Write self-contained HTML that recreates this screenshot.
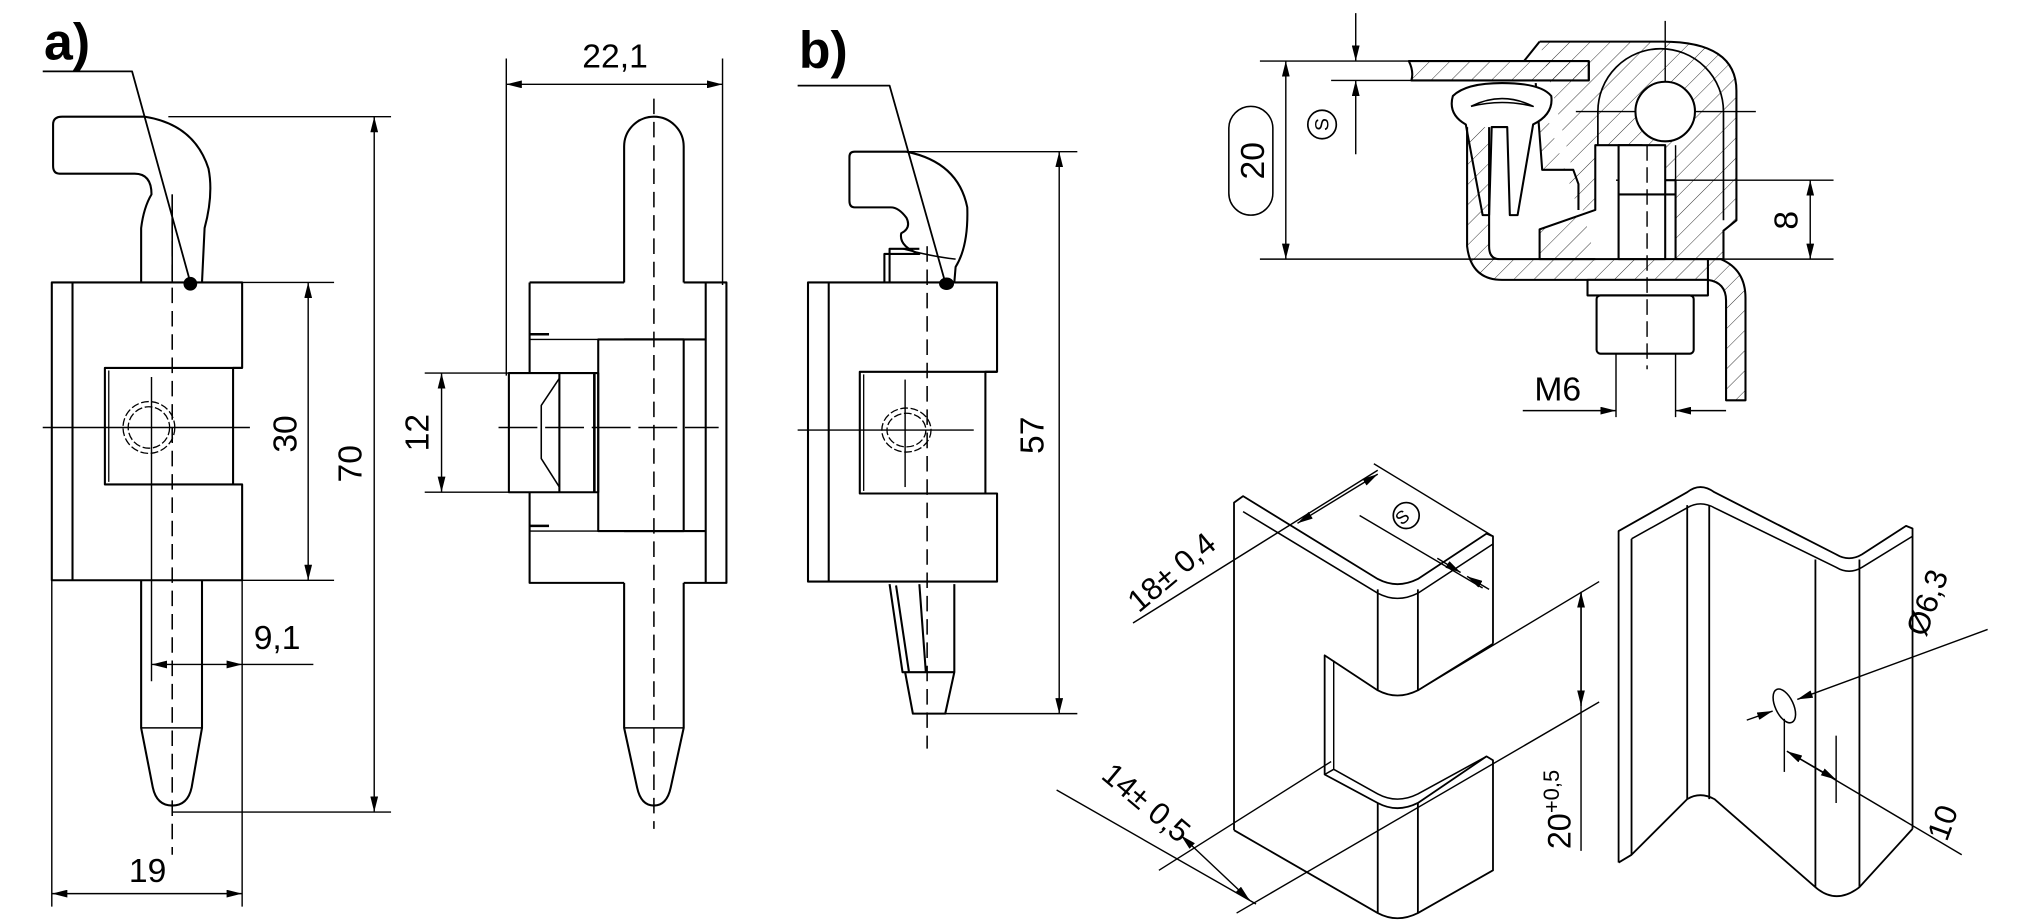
<!DOCTYPE html>
<html><head><meta charset="utf-8"><style>
html,body{margin:0;padding:0;background:#fff}
svg{display:block}
text{font-family:"Liberation Sans",Arial,sans-serif;fill:#000}
</style></head><body>
<svg width="2020" height="921" viewBox="0 0 1560 711" xmlns="http://www.w3.org/2000/svg">
<defs>
<marker id="ar" viewBox="0 0 12 6" refX="12" refY="3" markerWidth="12" markerHeight="6" orient="auto-start-reverse" markerUnits="userSpaceOnUse"><path d="M0,0 L12,3 L0,6 z" fill="#000"/></marker>
<pattern id="h" width="11" height="11" patternUnits="userSpaceOnUse" patternTransform="rotate(45)"><line x1="0" y1="0" x2="0" y2="11" stroke="#000" stroke-width="0.6"/></pattern>
</defs>
<g fill="none" stroke="#000" stroke-width="1.6" stroke-linejoin="round">

<!-- ===== a) front view ===== -->
<text x="34" y="46" font-size="40" font-weight="bold" stroke="none">a)</text>
<polyline points="33,55 102,55 147,218" stroke-width="1.4"/>
<circle cx="147" cy="219" r="4.5" fill="#000"/>
<path d="M109,218 L109,176 Q111,160 117,150 Q117,134 104,134 L46,134 Q41,134 41,128 L41,96 Q41,90 48,90 L112,90 Q150,96 161,130 Q165,150 158,176 L156,218"/>
<line x1="133" y1="150" x2="133" y2="218" stroke-width="1.2"/>
<path d="M40,218 L187,218 L187,284 L180,284 L180,374 L187,374 L187,448 L40,448 Z"/>
<line x1="56" y1="218" x2="56" y2="448"/>
<path d="M187,284 L81,284 L81,374 L180,374"/>
<line x1="84" y1="286" x2="84" y2="372" stroke-width="1"/>
<circle cx="115" cy="330" r="20" stroke-width="1" stroke-dasharray="6,2"/>
<circle cx="115" cy="330" r="16" stroke-width="1" stroke-dasharray="6,2"/>
<line x1="33" y1="330" x2="193" y2="330" stroke-width="1.1"/>
<line x1="117" y1="291" x2="117" y2="526" stroke-width="1.1"/>
<path d="M109,448 L109,562 L118,608 Q121,622 133,622 Q145,622 148,608 L156,562 L156,448"/>
<line x1="109" y1="562" x2="156" y2="562" stroke-width="1.1"/>
<line x1="133" y1="150" x2="133" y2="660" stroke-width="1.2" stroke-dasharray="12,6"/>
<g stroke-width="1.1">
<line x1="130" y1="90" x2="302" y2="90"/><line x1="133" y1="627" x2="302" y2="627"/>
<line x1="289" y1="90" x2="289" y2="627" marker-start="url(#ar)" marker-end="url(#ar)"/>
<line x1="187" y1="218" x2="258" y2="218"/><line x1="187" y1="448" x2="258" y2="448"/>
<line x1="238" y1="218" x2="238" y2="448" marker-start="url(#ar)" marker-end="url(#ar)"/>
<line x1="117" y1="513" x2="187" y2="513" marker-start="url(#ar)" marker-end="url(#ar)"/>
<line x1="187" y1="513" x2="242" y2="513"/>
<line x1="40" y1="448" x2="40" y2="700"/><line x1="187" y1="448" x2="187" y2="700"/>
<line x1="40" y1="690" x2="187" y2="690" marker-start="url(#ar)" marker-end="url(#ar)"/>
</g>
<text x="0" y="0" font-size="26" stroke="none" transform="translate(279,358) rotate(-90)" text-anchor="middle">70</text>
<text x="0" y="0" font-size="26" stroke="none" transform="translate(229,335) rotate(-90)" text-anchor="middle">30</text>
<text x="214" y="501" font-size="26" stroke="none" text-anchor="middle">9,1</text>
<text x="114" y="681" font-size="26" stroke="none" text-anchor="middle">19</text>

<!-- ===== a) side view ===== -->
<g stroke-width="1.1">
<line x1="391" y1="45" x2="391" y2="290"/><line x1="558" y1="45" x2="558" y2="220"/>
<line x1="391" y1="65" x2="558" y2="65" marker-start="url(#ar)" marker-end="url(#ar)"/>
</g>
<text x="475" y="52" font-size="26" stroke="none" text-anchor="middle">22,1</text>
<path d="M409,218 L482,218 M528,218 L561,218 L561,450 L528,450 M482,450 L409,450 L409,380 M409,288 L409,218"/>
<line x1="545" y1="218" x2="545" y2="450"/>
<path d="M482,262 L545,262 M482,410 L545,410"/>
<rect x="462" y="262" width="66" height="148"/>
<path d="M409,262 L462,262 M409,410 L462,410" stroke-width="1.1"/>
<path d="M409,258 L424,258 M409,406 L424,406" stroke-width="2"/>
<rect x="393" y="288" width="69" height="92"/>
<line x1="432" y1="288" x2="432" y2="380"/>
<path d="M432,292 L418,313 L418,354 L432,376" stroke-width="1.2"/>
<line x1="459" y1="288" x2="459" y2="380" stroke-width="2"/>
<path d="M482,218 L482,113 A23,23 0 0 1 528,113 L528,218 M482,450 L482,562 L492,608 Q495,622 505,622 Q515,622 518,608 L528,562 L528,450"/>
<line x1="482" y1="562" x2="528" y2="562" stroke-width="1.1"/>
<line x1="505" y1="76" x2="505" y2="640" stroke-width="1.2" stroke-dasharray="12,6"/>
<line x1="385" y1="330" x2="555" y2="330" stroke-width="1.1" stroke-dasharray="30,6"/>
<g stroke-width="1.1">
<line x1="328" y1="288" x2="393" y2="288"/><line x1="328" y1="380" x2="393" y2="380"/>
<line x1="341" y1="288" x2="341" y2="380" marker-start="url(#ar)" marker-end="url(#ar)"/>
</g>
<text x="0" y="0" font-size="26" stroke="none" transform="translate(331,334) rotate(-90)" text-anchor="middle">12</text>

<!-- ===== b) ===== -->
<text x="617" y="52" font-size="40" font-weight="bold" stroke="none">b)</text>
<polyline points="616,66 687,66 730,218" stroke-width="1.4"/>
<ellipse cx="731" cy="219" rx="5" ry="4" fill="#000"/>
<path d="M687,218 L687,192 L710,192 M683,218 L683,196 L710,196 Q694,190 696,180 Q704,176 700,168 Q694,160 688,160 L660,160 Q656,160 656,155 L656,121 Q656,117 660,117 L700,117 Q740,125 747,160 Q748,190 738,206 L737,218"/>
<path d="M697,192 Q720,198 738,200" stroke-width="1.2"/>
<path d="M624,218 L770,218 L770,287 L761,287 L761,381 L770,381 L770,449 L624,449 Z"/>
<line x1="640" y1="218" x2="640" y2="449"/>
<path d="M770,287 L664,287 L664,381 L761,381"/>
<line x1="667" y1="289" x2="667" y2="379" stroke-width="1"/>
<ellipse cx="700" cy="332" rx="19" ry="17" stroke-width="1" stroke-dasharray="6,2"/>
<ellipse cx="700" cy="332" rx="15" ry="13" stroke-width="1" stroke-dasharray="6,2"/>
<line x1="616" y1="332" x2="752" y2="332" stroke-width="1.1"/>
<line x1="699" y1="293" x2="699" y2="376" stroke-width="1.1"/>
<path d="M687,451 L697,519 L737,519 L737,451 M710,451 L715,519 M692,452 L702,519 M699,519 L705,551 L730,551 L737,519"/>
<line x1="716" y1="190" x2="716" y2="578" stroke-width="1.2" stroke-dasharray="12,6"/>
<g stroke-width="1.1">
<line x1="700" y1="117" x2="832" y2="117"/><line x1="730" y1="551" x2="832" y2="551"/>
<line x1="818" y1="117" x2="818" y2="551" marker-start="url(#ar)" marker-end="url(#ar)"/>
</g>
<text x="0" y="0" font-size="26" stroke="none" transform="translate(806,336) rotate(-90)" text-anchor="middle">57</text>

<!-- ===== section view top right ===== -->
<g stroke-width="1.1">
<line x1="973" y1="47" x2="1090" y2="47"/>
<line x1="973" y1="200" x2="1416" y2="200"/>
<line x1="993" y1="47" x2="993" y2="200" marker-start="url(#ar)" marker-end="url(#ar)"/>
<line x1="1047" y1="10" x2="1047" y2="47" marker-end="url(#ar)"/>
<line x1="1028" y1="62" x2="1090" y2="62"/>
<line x1="1047" y1="119" x2="1047" y2="62" marker-end="url(#ar)"/>
<line x1="1248" y1="139" x2="1416" y2="139"/>
<line x1="1398" y1="139" x2="1398" y2="200" marker-start="url(#ar)" marker-end="url(#ar)"/>
<line x1="1248" y1="228" x2="1248" y2="322"/><line x1="1294" y1="228" x2="1294" y2="322"/>
<line x1="1176" y1="317" x2="1248" y2="317" marker-end="url(#ar)"/>
<line x1="1333" y1="317" x2="1294" y2="317" marker-end="url(#ar)"/>
<line x1="1217" y1="86" x2="1356" y2="86"/>
<line x1="1286" y1="16" x2="1286" y2="75"/>
</g>
<rect x="949" y="82" width="34" height="84" rx="17" stroke-width="1.2"/>
<text x="0" y="0" font-size="26" stroke="none" transform="translate(976,124) rotate(-90)" text-anchor="middle">20</text>
<circle cx="1021" cy="96" r="11" stroke-width="1.3"/>
<text x="0" y="0" font-size="15" stroke="none" transform="translate(1026,96) rotate(-90)" text-anchor="middle">S</text>
<text x="0" y="0" font-size="26" stroke="none" transform="translate(1388,170) rotate(-90)" text-anchor="middle">8</text>
<text x="1203" y="309" font-size="26" stroke="none" text-anchor="middle">M6</text>
<path d="M1088,47 L1227,47 L1227,62 L1090,62 Q1092,55 1088,47 Z" fill="url(#h)"/>
<path d="M1189,32 L1284,32 Q1341,32 1341,70 L1341,170 L1331,178 L1331,200 L1294,200 L1294,139 L1268,139 L1268,112 L1232,112 L1232,162 L1189,177 L1189,200 L1232,200 M1177,47 L1189,32 M1227,47 L1227,62 M1186,64 L1191,131 L1215,131 L1219,142 L1219,162" fill="url(#h)"/>
<path d="M1234,112 L1234,86 A48,48 0 0 1 1331,86 L1331,170" fill="none" stroke-width="1.3"/>
<circle cx="1286" cy="86" r="23" fill="#fff"/>
<rect x="1250" y="112" width="36" height="88" fill="#fff"/>
<line x1="1250" y1="150" x2="1294" y2="150"/>
<path d="M1145,166 L1132,96 Q1118,88 1122,74 Q1132,64 1160,64 Q1190,64 1198,74 Q1200,88 1184,96 L1172,166 L1166,166 L1164,98 L1152,98 L1150,166 Z" fill="#fff"/>
<path d="M1136,82 Q1160,70 1184,82 Q1160,76 1136,82" stroke-width="1.2"/>
<path d="M1133,98 L1133,190 Q1136,216 1160,216 L1319,216 L1319,200 L1158,200 Q1150,200 1150,190 L1150,98" fill="url(#h)"/>
<path d="M1319,200 L1329,200 Q1348,208 1348,230 L1348,309 L1333,309 L1333,232 Q1333,218 1319,216" fill="url(#h)"/>
<rect x="1226" y="216" width="93" height="12" fill="#fff"/>
<rect x="1233" y="228" width="75" height="45" rx="3" fill="#fff"/>
<line x1="1250" y1="112" x2="1250" y2="200" stroke-width="1.1"/>
<line x1="1294" y1="112" x2="1294" y2="200" stroke-width="1.1"/>
<line x1="1272" y1="112" x2="1272" y2="285" stroke-width="1.1" stroke-dasharray="12,5"/>

<!-- ===== iso left ===== -->
<g stroke-width="1.4">
<path d="M953,641 L953,388 L960,383 L1064,447 Q1079,455 1095,447 L1148,412 L1153,414 L1153,497"/>
<path d="M960,395 L1064,458 Q1079,466 1095,458 L1153,420" stroke-width="1.2"/>
<line x1="1064" y1="455" x2="1064" y2="533"/><line x1="1095" y1="455" x2="1095" y2="533"/>
<path d="M1153,497 L1095,533 Q1079,541 1064,533 L1023,506 L1023,598 L1064,620 Q1079,628 1095,620 L1148,584 L1153,587 L1153,672 L1095,705 Q1079,713 1064,705 L953,641"/>
<line x1="1030" y1="510" x2="1030" y2="594" stroke-width="1.1"/>
<path d="M1023,598 L1030,594 L1064,613 Q1079,621 1095,613 L1148,584" stroke-width="1.2"/>
<line x1="1064" y1="620" x2="1064" y2="705"/><line x1="1095" y1="620" x2="1095" y2="705"/>
</g>
<g stroke-width="1.1">
<line x1="875" y1="481" x2="1064" y2="363"/>
<line x1="1002" y1="404" x2="1064" y2="366" marker-start="url(#ar)" marker-end="url(#ar)"/>
<line x1="1061" y1="358" x2="1153" y2="414"/>
<line x1="1050" y1="398" x2="1145" y2="454"/>
<line x1="1110" y1="431" x2="1128" y2="442" marker-end="url(#ar)"/>
<line x1="1150" y1="455" x2="1133" y2="445" marker-end="url(#ar)"/>
<line x1="895" y1="672" x2="1028" y2="588"/>
<line x1="955" y1="705" x2="1235" y2="542"/>
<line x1="1095" y1="533" x2="1235" y2="449"/>
<line x1="1221" y1="457" x2="1221" y2="657"/>
<line x1="1221" y1="457" x2="1221" y2="545" marker-start="url(#ar)" marker-end="url(#ar)"/>
<line x1="816" y1="610" x2="970" y2="698"/>
<line x1="912" y1="645" x2="965" y2="695" marker-start="url(#ar)" marker-end="url(#ar)"/>
</g>
<circle cx="1086" cy="398" r="10" stroke-width="1.3"/>
<text x="0" y="0" font-size="14" stroke="none" transform="translate(1086,403) rotate(-40)" text-anchor="middle">S</text>
<text x="0" y="0" font-size="24" stroke="none" transform="translate(910,448) rotate(-40)" text-anchor="middle">18± 0,4</text>
<text x="0" y="0" font-size="24" stroke="none" transform="translate(880,626) rotate(40)" text-anchor="middle">14± 0,5</text>
<text x="0" y="0" font-size="25" stroke="none" transform="translate(1213,625) rotate(-90)" text-anchor="middle">20<tspan font-size="17" dy="-9">+0,5</tspan></text>

<!-- ===== iso right ===== -->
<g stroke-width="1.4">
<path d="M1250,666 L1250,410 L1303,380 Q1313,372 1324,380 L1418,428 Q1428,434 1438,428 L1472,406 L1477,408 L1477,640"/>
<path d="M1260,416 L1303,392 Q1313,386 1324,392 L1418,438 Q1428,444 1438,438 L1477,414" stroke-width="1.2"/>
<line x1="1260" y1="416" x2="1260" y2="660"/>
<line x1="1303" y1="390" x2="1303" y2="617"/><line x1="1320" y1="390" x2="1320" y2="617"/>
<line x1="1402" y1="432" x2="1402" y2="685"/><line x1="1436" y1="432" x2="1436" y2="685"/>
<path d="M1250,666 L1260,660 L1303,617 Q1313,611 1324,617 L1402,685 Q1418,699 1436,685 L1477,640"/>
</g>
<ellipse cx="1378" cy="545" rx="7" ry="14" transform="rotate(-25 1378 545)" stroke-width="1.2"/>
<g stroke-width="1.1">
<line x1="1535" y1="486" x2="1388" y2="540" marker-end="url(#ar)"/>
<line x1="1349" y1="556" x2="1369" y2="549" marker-end="url(#ar)"/>
<line x1="1378" y1="555" x2="1378" y2="596"/>
<line x1="1418" y1="568" x2="1418" y2="620"/>
<line x1="1380" y1="580" x2="1515" y2="660"/>
<line x1="1380" y1="580" x2="1418" y2="602" marker-start="url(#ar)" marker-end="url(#ar)"/>
</g>
<text x="0" y="0" font-size="24" stroke="none" transform="translate(1496,468) rotate(-70)" text-anchor="middle">Ø6,3</text>
<text x="0" y="0" font-size="24" stroke="none" transform="translate(1508,638) rotate(-70)" text-anchor="middle">10</text>
</g>
</svg>
</body></html>
